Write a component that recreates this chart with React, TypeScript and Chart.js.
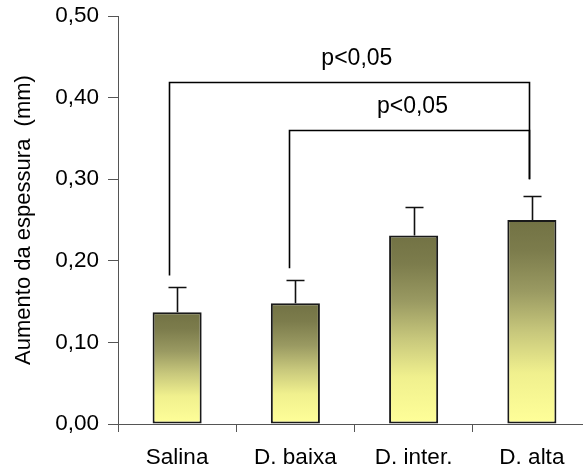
import React, { useEffect, useRef } from "react";
import { Chart, registerables } from "chart.js";

Chart.register(...registerables);

const categories = ["Salina", "D. baixa", "D. inter.", "D. alta"];
const means = [0.137, 0.148, 0.231, 0.25];
const errorsUp = [0.031, 0.029, 0.035, 0.03];
const yTicks = [0, 0.1, 0.2, 0.3, 0.4, 0.5];
const yTitle = "Aumento da espessura  (mm)";

// significance brackets (category units for x, data units for y)
const bracketFrom = [-0.07, 0.945];
const bracketTo = [2.975, 2.975];
const bracketTop = [0.419, 0.36];
const bracketLeftEnd = [0.182, 0.191];
const bracketRightEnd = [0.3, 0.3];
const bracketLabelPos = [1.52, 1.99];
const bracketLabels = ["p<0,05", "p<0,05"];

const FONT = "'Liberation Sans', Arial, sans-serif";

function catPx(scale: any, v: number) {
  const p0 = scale.getPixelForValue(0);
  const p1 = scale.getPixelForValue(1);
  return p0 + v * (p1 - p0);
}

const annotPlugin = {
  id: "annot",
  afterDatasetsDraw(chart: any) {
    const ctx = chart.ctx;
    const xs = chart.scales.x;
    const ys = chart.scales.y;
    const meta = chart.getDatasetMeta(0);
    ctx.save();
    // error bars
    ctx.strokeStyle = "#111";
    ctx.lineWidth = 1.6;
    meta.data.forEach((bar: any, i: number) => {
      const x = Math.round(bar.x) + 0.5;
      const y0 = ys.getPixelForValue(means[i]);
      const y1 = Math.round(ys.getPixelForValue(means[i] + errorsUp[i])) + 0.5;
      ctx.beginPath();
      ctx.moveTo(x, y0);
      ctx.lineTo(x, y1);
      ctx.moveTo(x - 9, y1);
      ctx.lineTo(x + 9, y1);
      ctx.stroke();
    });
    // brackets
    ctx.lineWidth = 1.6;
    ctx.strokeStyle = "#000";
    for (let i = 0; i < bracketFrom.length; i++) {
      const xl = Math.round(catPx(xs, bracketFrom[i])) + 0.5;
      const xr = Math.round(catPx(xs, bracketTo[i])) + 0.5;
      const yt = Math.round(ys.getPixelForValue(bracketTop[i])) + 0.5;
      const yl = ys.getPixelForValue(bracketLeftEnd[i]);
      const yr = ys.getPixelForValue(bracketRightEnd[i]);
      ctx.beginPath();
      ctx.moveTo(xl, yl);
      ctx.lineTo(xl, yt);
      ctx.lineTo(xr, yt);
      ctx.lineTo(xr, yr);
      ctx.stroke();
      ctx.fillStyle = "#000";
      ctx.font = `23px ${FONT}`;
      ctx.textAlign = "center";
      ctx.textBaseline = "middle";
      ctx.fillText(bracketLabels[i], catPx(xs, bracketLabelPos[i]), yt - 24);
    }
    ctx.restore();
  },
};

export default function App() {
  const ref = useRef<HTMLCanvasElement>(null);
  useEffect(() => {
    if (!ref.current) return;
    const chart = new Chart(ref.current, {
      type: "bar",
      data: {
        labels: categories,
        datasets: [
          {
            data: means,
            backgroundColor: (c: any) => {
              const chartObj = c.chart;
              const ys = chartObj.scales?.y;
              if (!ys || c.dataIndex === undefined) return "#c8c87c";
              const top = ys.getPixelForValue(means[c.dataIndex]);
              const bottom = ys.getPixelForValue(0);
              if (!isFinite(top) || !isFinite(bottom) || top === bottom) return "#c8c87c";
              const g = chartObj.ctx.createLinearGradient(0, top, 0, bottom);
              g.addColorStop(0, "#727244");
              g.addColorStop(0.15, "#7c7c4c");
              g.addColorStop(0.35, "#9a9a62");
              g.addColorStop(0.55, "#c8c87c");
              g.addColorStop(0.75, "#f0f08e");
              g.addColorStop(1, "#ffff99");
              return g;
            },
            borderColor: "#1a1a1a",
            borderWidth: 2,
            borderSkipped: false,
            barPercentage: 0.415,
            categoryPercentage: 1,
          },
        ],
      },
      options: {
        responsive: false,
        animation: false,
        devicePixelRatio: 1,
        layout: { padding: { top: 16, right: 9, bottom: 0, left: 0 } },
        plugins: { legend: { display: false }, tooltip: { enabled: false } },
        scales: {
          x: {
            grid: {
              display: true,
              drawOnChartArea: false,
              drawTicks: true,
              tickLength: 8,
              color: "#555",
              offset: true,
            },
            border: { display: true, color: "#555", width: 1 },
            ticks: { color: "#000", font: { family: FONT, size: 22.5 }, padding: 12 },
            afterFit: (s: any) => {
              s.height = 50;
              s.paddingLeft = 0;
              s.paddingRight = 0;
            },
          },
          y: {
            min: 0,
            max: 0.5,
            afterBuildTicks: (s: any) => {
              s.ticks = yTicks.map((v) => ({ value: v }));
            },
            ticks: {
              color: "#000",
              font: { family: FONT, size: 22.5 },
              padding: 9,
              callback: (v: any) => Number(v).toFixed(2).replace(".", ","),
            },
            grid: {
              display: true,
              drawOnChartArea: false,
              drawTicks: true,
              tickLength: 10,
              color: "#555",
            },
            border: { display: true, color: "#555", width: 1 },
            title: {
              display: true,
              text: yTitle,
              color: "#000",
              font: { family: FONT, size: 22 },
              padding: { top: 11, bottom: 0 },
            },
            afterFit: (s: any) => {
              s.width = 118;
              s.paddingTop = 0;
              s.paddingBottom = 0;
            },
          },
        },
      },
      plugins: [annotPlugin],
    });
    return () => chart.destroy();
  }, []);
  return (
    <div
      style={{
        position: "fixed",
        left: 0,
        top: 0,
        width: 583,
        height: 474,
        overflow: "hidden",
        background: "#fff",
      }}
    >
      <canvas ref={ref} width={600} height={474} style={{ display: "block" }} />
    </div>
  );
}
